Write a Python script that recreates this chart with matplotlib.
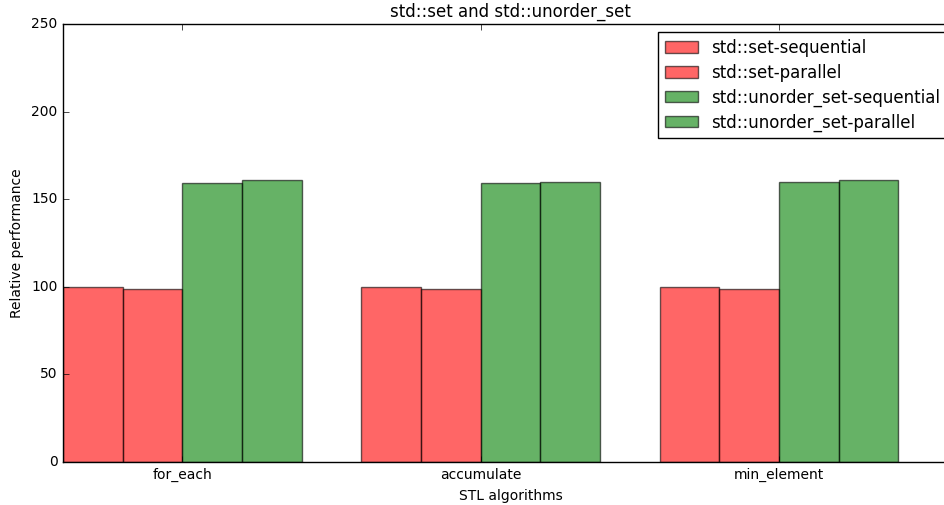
import numpy as np
import matplotlib
matplotlib.use("Agg")
import matplotlib.pyplot as plt

algorithms = ["for_each", "accumulate", "min_element"]
set_seq = [100, 100, 100]
set_par = [99, 99, 99]
uset_seq = [159, 159, 160]
uset_par = [161, 160, 161]

plt.style.use("classic")
plt.rcParams["font.size"] = 10

fig = plt.figure(figsize=(9.45, 5.05), dpi=100, facecolor="white")
ax = fig.add_axes([0.0667, 0.0851, 0.947, 0.8674])

idx = np.arange(len(algorithms))
w = 0.2
ax.bar(idx, set_seq, w, align="edge", color="r", alpha=0.6, label="std::set-sequential")
ax.bar(idx + w, set_par, w, align="edge", color="r", alpha=0.6, label="std::set-parallel")
ax.bar(idx + 2 * w, uset_seq, w, align="edge", color="g", alpha=0.6,
       label="std::unorder_set-sequential")
ax.bar(idx + 3 * w, uset_par, w, align="edge", color="g", alpha=0.6,
       label="std::unorder_set-parallel")

ax.set_xlim(0, 3)
ax.set_ylim(0, 250)
ax.set_xticks(idx + 2 * w)
ax.set_xticklabels(algorithms)
ax.set_xlabel("STL algorithms")
ax.set_ylabel("Relative performance")
ax.set_title("std::set and std::unorder_set")
ax.legend(loc="upper right", fontsize=12, labelspacing=0.4,
          bbox_to_anchor=(0.997, 1.0))

fig.savefig("out.png", dpi=100, facecolor="white")
